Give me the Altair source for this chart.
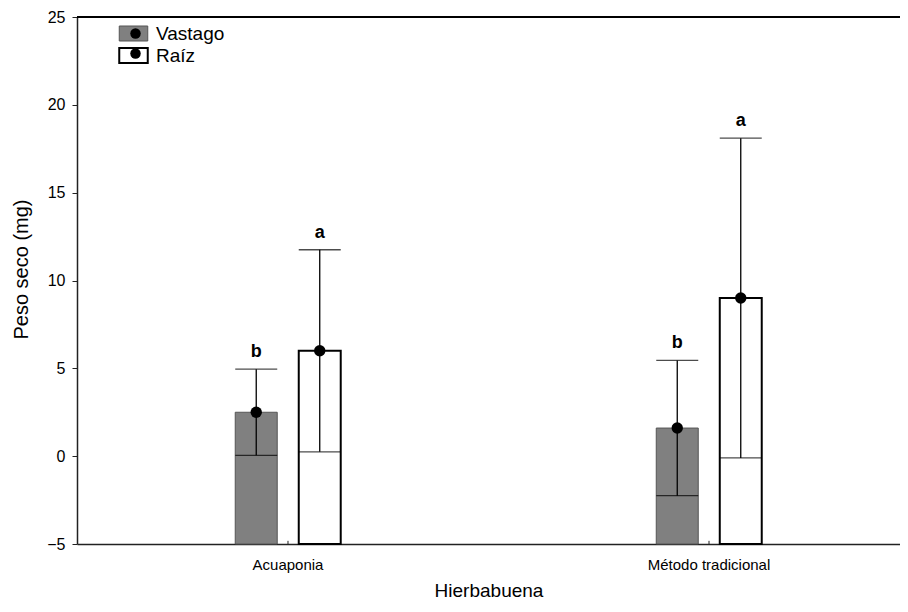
import altair as alt
import pandas as pd

categories = ["Acuaponia", "Método tradicional"]
series = ["Vastago", "Raíz"]
mean_vastago = [2.5, 1.6]
mean_raiz = [6.0, 9.0]
low_vastago = [0.05, -2.25]
low_raiz = [0.25, -0.1]
up_vastago = [4.95, 5.45]
up_raiz = [11.75, 18.1]
letters_vastago = ["b", "b"]
letters_raiz = ["a", "a"]
y_ticks = [-5, 0, 5, 10, 15, 20, 25]

rows = []
for i, c in enumerate(categories):
    rows.append(dict(category=c, series="Vastago", series2="Vastago", mean=mean_vastago[i],
                     lower=low_vastago[i], upper=up_vastago[i], letter=letters_vastago[i]))
    rows.append(dict(category=c, series="Raíz", series2="Raíz", mean=mean_raiz[i],
                     lower=low_raiz[i], upper=up_raiz[i], letter=letters_raiz[i]))
df = pd.DataFrame(rows)
cat_df = pd.DataFrame({"category": categories})

FONT = "Liberation Sans"
ymin, ymax = y_ticks[0], y_ticks[-1]

xscale = alt.Scale(domain=categories, paddingInner=0.5, paddingOuter=0.2274, align=0.5522)
oscale = alt.Scale(domain=series, paddingInner=0.339, paddingOuter=0.827)
yscale = alt.Scale(domain=[ymin, ymax], nice=False, zero=False)

X = alt.X("category:N", scale=xscale, sort=categories,
          axis=alt.Axis(title="Hierbabuena", labelAngle=0, ticks=False, labelFontSize=15,
                        labelPadding=13, labelColor="black", titleFontSize=19,
                        titleFontWeight="normal", titleY=52, titleBaseline="alphabetic",
                        titleColor="black", domainColor="#222", domainWidth=1.5))
XO = alt.XOffset("series:N", scale=oscale, sort=series)
Y_axis = alt.Axis(title="Peso seco (mg)", values=y_ticks, grid=False, tickSize=5,
                  tickColor="#222", tickWidth=1, labelFontSize=16, labelPadding=7,
                  labelColor="black", titleFontSize=20, titleFontWeight="normal",
                  titleColor="black", titleX=-50, titleY=252, titleBaseline="alphabetic",
                  domainColor="#222", domainWidth=1.5)

base = alt.Chart(df)

bars = base.mark_bar().encode(
    x=X, xOffset=XO,
    y=alt.Y("mean:Q", scale=yscale, axis=Y_axis),
    y2=alt.datum(ymin),
    fill=alt.Fill("series:N", scale=alt.Scale(domain=series, range=["#808080", "white"]),
                  legend=alt.Legend(title=None, orient="none", legendX=47, legendY=7,
                                    symbolType="M-1.9,-1L1.9,-1L1.9,1L-1.9,1Z",
                                    symbolSize=225, symbolStrokeWidth=1.5,
                                    labelFontSize=19, labelColor="black", labelOffset=13,
                                    rowPadding=0)),
    stroke=alt.Stroke("series:N", scale=alt.Scale(domain=series, range=["#555555", "black"]),
                      legend=alt.Legend(title=None, orient="none", legendX=47, legendY=7)),
    strokeWidth=alt.StrokeWidth("series:N", scale=alt.Scale(domain=series, range=[1, 2]),
                                legend=None),
)

whisk = base.mark_rule(color="black", strokeWidth=1.3).encode(
    x=X, xOffset=XO, y=alt.Y("lower:Q", scale=yscale), y2="upper:Q")

cap_up = base.mark_tick(color="black", size=42, thickness=1.3, orient="horizontal").encode(
    x=X, xOffset=XO, y=alt.Y("upper:Q", scale=yscale))
cap_lo = base.mark_tick(color="black", size=42, thickness=1.3, orient="horizontal").encode(
    x=X, xOffset=XO, y=alt.Y("lower:Q", scale=yscale))

pts = base.mark_point(filled=True, color="black", size=130, opacity=1).encode(
    x=X, xOffset=XO, y=alt.Y("mean:Q", scale=yscale),
    shape=alt.Shape("series2:N", sort=series, scale=alt.Scale(range=["circle", "circle"]),
                    legend=alt.Legend(title=None, orient="none", legendX=49, legendY=7,
                                      symbolSize=110, symbolFillColor="black",
                                      symbolStrokeColor="black", labelFontSize=19,
                                      labelExpr="''", rowPadding=0)),
)

txt = base.mark_text(font=FONT, fontSize=18, fontWeight="bold", color="black",
                     baseline="alphabetic", dy=-12).encode(
    x=X, xOffset=XO, y=alt.Y("upper:Q", scale=yscale), text="letter:N")

top_line = alt.Chart(pd.DataFrame({"v": [ymax]})).mark_rule(color="black", strokeWidth=2).encode(
    y=alt.Y("v:Q", scale=yscale))

xticks = alt.Chart(cat_df).mark_rule(color="#222", strokeWidth=1).encode(
    x=X, y=alt.datum(ymin), y2=alt.datum(ymin + 0.18))

chart = alt.layer(bars, whisk, cap_up, cap_lo, pts, txt, top_line, xticks).properties(
    width=823, height=527,
    autosize=alt.AutoSizeParams(type="none"),
    padding={"left": 69, "top": 9, "right": 0, "bottom": 56},
).configure(font=FONT).configure_view(stroke=None).configure_axis(labelFont=FONT, titleFont=FONT)

chart.save("out.html", embed_options={"renderer": "svg", "actions": False})
